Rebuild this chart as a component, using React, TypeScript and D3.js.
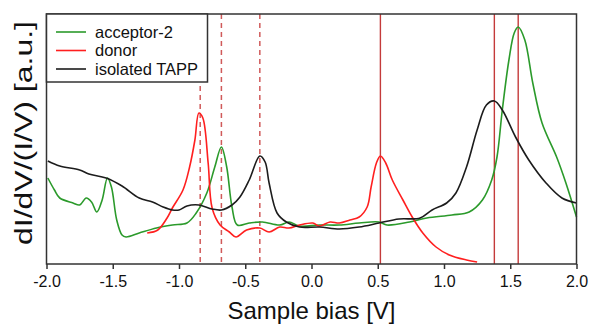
import { useEffect, useRef } from 'react'
import { select, line, curveCatmullRom, axisBottom, scaleLinear } from 'd3'

// bias [V], dI/dV/(I/V) [a.u.]
const acceptor2: [number, number][] = [
  [-1.99, 86], [-1.94, 74], [-1.9, 66], [-1.8, 61], [-1.75, 59], [-1.7, 66], [-1.66, 62],
  [-1.62, 52], [-1.58, 64], [-1.54, 86], [-1.51, 77], [-1.47, 44], [-1.43, 29], [-1.4, 27],
  [-1.3, 31], [-1.17, 36], [-1.05, 39], [-0.94, 41], [-0.87, 51], [-0.79, 71], [-0.73, 97],
  [-0.68, 117], [-0.64, 97], [-0.6, 57], [-0.56, 39], [-0.47, 41], [-0.37, 42], [-0.24, 39],
  [-0.17, 42], [-0.09, 38], [0.06, 39], [0.21, 39], [0.36, 41], [0.51, 42], [0.57, 39],
  [0.74, 42], [0.87, 46], [1.06, 49], [1.19, 52], [1.29, 64], [1.36, 84], [1.4, 107],
  [1.44, 154], [1.49, 204], [1.53, 231], [1.56, 237], [1.61, 224], [1.67, 181], [1.74, 141],
  [1.85, 107], [1.92, 81], [2.0, 47],
]

const donor: [number, number][] = [
  [-1.24, 31], [-1.16, 34], [-1.09, 46], [-1.05, 56], [-0.97, 74], [-0.92, 97], [-0.88, 124],
  [-0.85, 151], [-0.82, 146], [-0.78, 101], [-0.75, 56], [-0.69, 39], [-0.62, 32], [-0.57, 27],
  [-0.49, 34], [-0.39, 36], [-0.32, 32], [-0.24, 37], [-0.17, 36], [-0.09, 39], [0.01, 41],
  [0.06, 38], [0.14, 42], [0.21, 41], [0.29, 44], [0.36, 47], [0.42, 57], [0.45, 77],
  [0.49, 101], [0.52, 108], [0.56, 101], [0.61, 84], [0.69, 64], [0.76, 47], [0.84, 31],
  [0.94, 17], [1.04, 9], [1.17, 4], [1.25, 2],
]

const isolatedTAPP: [number, number][] = [
  [-1.99, 103], [-1.9, 98], [-1.75, 94], [-1.68, 90], [-1.55, 86], [-1.43, 78], [-1.3, 66],
  [-1.2, 62], [-1.12, 57], [-1.05, 54], [-1.0, 54], [-0.94, 58], [-0.85, 59], [-0.75, 55],
  [-0.68, 54], [-0.6, 59], [-0.54, 67], [-0.47, 84], [-0.39, 108], [-0.35, 102], [-0.32, 81],
  [-0.26, 51], [-0.19, 42], [-0.09, 37], [0.06, 37], [0.21, 35], [0.36, 37], [0.51, 41],
  [0.66, 45], [0.82, 46], [0.91, 54], [1.02, 61], [1.09, 71], [1.17, 97], [1.25, 134],
  [1.32, 159], [1.38, 163], [1.44, 154], [1.54, 127], [1.64, 104], [1.77, 81], [1.89, 66],
  [2.0, 61],
]

const dashedMarks = [-0.84, -0.68, -0.39]
const solidMarks = [0.52, 1.38, 1.56]
const xTicks = [-2, -1.5, -1, -0.5, 0, 0.5, 1, 1.5, 2]

const series = [
  { name: 'acceptor-2', data: acceptor2, color: '#2b9a2b' },
  { name: 'donor', data: donor, color: '#ff1f1f' },
  { name: 'isolated TAPP', data: isolatedTAPP, color: '#1c1c1c' },
]

const W = 591
const H = 324
const m = { left: 46.5, right: 576.5, top: 14, bottom: 264 }
const font = 'Liberation Sans, Arial, sans-serif'

export default function App() {
  const svgRef = useRef<SVGSVGElement | null>(null)

  useEffect(() => {
    const svg = select(svgRef.current)
    svg.selectAll('*').remove()

    const x = scaleLinear().domain([-2, 2]).range([m.left, m.right])
    const y = scaleLinear().domain([0, 250]).range([m.bottom, m.top])

    const g = svg.append('g')

    g.selectAll('.dash')
      .data(dashedMarks)
      .join('line')
      .attr('x1', (d) => x(d))
      .attr('x2', (d) => x(d))
      .attr('y1', m.top)
      .attr('y2', m.bottom)
      .attr('stroke', '#d05a5a')
      .attr('stroke-width', 1.5)
      .attr('stroke-dasharray', '5,4')

    g.selectAll('.solid')
      .data(solidMarks)
      .join('line')
      .attr('x1', (d) => x(d))
      .attr('x2', (d) => x(d))
      .attr('y1', m.top)
      .attr('y2', m.bottom)
      .attr('stroke', '#c43a3a')
      .attr('stroke-width', 1.4)

    const path = line<[number, number]>()
      .x((d) => x(d[0]))
      .y((d) => y(d[1]))
      .curve(curveCatmullRom.alpha(0.5))

    g.selectAll('.curve')
      .data(series)
      .join('path')
      .attr('d', (s) => path(s.data))
      .attr('fill', 'none')
      .attr('stroke', (s) => s.color)
      .attr('stroke-width', 1.6)

    // frame
    svg
      .append('rect')
      .attr('x', m.left)
      .attr('y', m.top)
      .attr('width', m.right - m.left)
      .attr('height', m.bottom - m.top)
      .attr('fill', 'none')
      .attr('stroke', '#333')
      .attr('stroke-width', 1.5)

    const xAxis = axisBottom(x)
      .tickValues(xTicks)
      .tickSize(5)
      .tickSizeOuter(0)
      .tickPadding(7)
      .tickFormat((d) => (d as number).toFixed(1))
    const ax = svg
      .append('g')
      .attr('transform', `translate(0,${m.bottom})`)
      .call(xAxis as any)
    ax.select('.domain').remove()
    ax.selectAll('line').attr('stroke', '#333').attr('stroke-width', 1.5)
    ax.selectAll('text').attr('font-family', font).attr('font-size', 16).attr('fill', '#111')

    svg
      .append('text')
      .attr('x', (m.left + m.right) / 2)
      .attr('y', 319)
      .attr('text-anchor', 'middle')
      .attr('font-family', font)
      .attr('font-size', 24)
      .attr('fill', '#111')
      .text('Sample bias [V]')

    svg
      .append('text')
      .attr('transform', `translate(32,133) rotate(-90)`)
      .attr('text-anchor', 'middle')
      .attr('font-family', font)
      .attr('font-size', 23)
      .attr('textLength', 224)
      .attr('lengthAdjust', 'spacingAndGlyphs')
      .attr('fill', '#111')
      .text('dI/dV/(I/V) [a.u.]')

    // legend
    const lg = svg.append('g')
    lg.append('rect')
      .attr('x', m.left)
      .attr('y', m.top)
      .attr('width', 161)
      .attr('height', 68)
      .attr('fill', '#fff')
      .attr('stroke', '#333')
      .attr('stroke-width', 1.5)
    const rows = lg
      .selectAll('.row')
      .data(series)
      .join('g')
      .attr('transform', (_, i) => `translate(0,${32 + i * 18.5})`)
    rows
      .append('line')
      .attr('x1', 56)
      .attr('x2', 86)
      .attr('stroke', (s) => s.color)
      .attr('stroke-width', 1.6)
    rows
      .append('text')
      .attr('x', 95)
      .attr('dy', '0.35em')
      .attr('font-family', font)
      .attr('font-size', 16.5)
      .attr('fill', '#111')
      .text((s) => s.name)
  }, [])

  return (
    <svg
      ref={svgRef}
      width={W}
      height={H}
      style={{ position: 'absolute', left: 0, top: 0, background: '#fff' }}
    />
  )
}
